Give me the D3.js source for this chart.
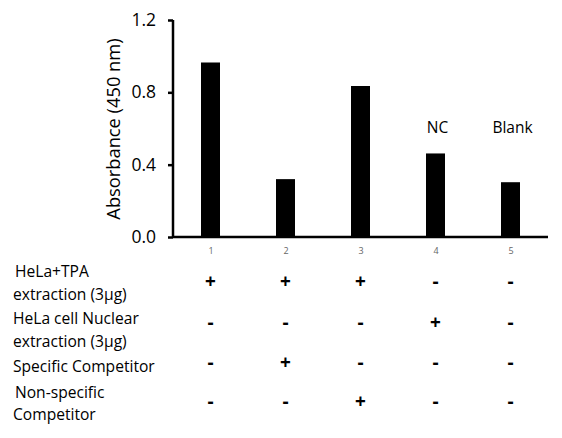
<!DOCTYPE html>
<html>
<head>
<meta charset="utf-8">
<script src="https://cdn.jsdelivr.net/npm/d3@7"></script>
<style>
  body { margin: 0; background: #fff; }
  text { font-family: "Open Sans", sans-serif; }
</style>
</head>
<body>
<div id="chart"></div>
<script>
// bar data
const lanes = ["1", "2", "3", "4", "5"];
const absorbance = [0.965, 0.32, 0.835, 0.462, 0.303];
const barNotes = ["", "", "", "NC", "Blank"];
const yTicks = [0.0, 0.4, 0.8, 1.2];

// condition table under the chart
const rowLabels = [
	["HeLa+TPA", "extraction (3μg)"],
	["HeLa cell Nuclear", "extraction (3μg)"],
	["Specific Competitor"],
	["Non-specific", "Competitor"]
];
const rowSigns = [
	["+", "+", "+", "-", "-"],
	["-", "-", "-", "+", "-"],
	["-", "+", "-", "-", "-"],
	["-", "-", "+", "-", "-"]
];

const width = 562, height = 438;
const margin = {top: 20, left: 173, right: 14, bottom: 201};

const svg = d3.select("#chart").append("svg")
	.attr("width", width)
	.attr("height", height);

const x = d3.scalePoint()
	.domain(lanes)
	.range([margin.left, width - margin.right])
	.padding(0.5);

const y = d3.scaleLinear()
	.domain([0, 1.2])
	.range([height - margin.bottom, margin.top]);

const barW = 19;

// bars
svg.selectAll("rect.bar")
	.data(lanes)
	.enter()
	.append("rect")
	.attr("class", "bar")
	.attr("x", (d, i) => x(d) - barW / 2)
	.attr("y", (d, i) => y(absorbance[i]))
	.attr("width", barW)
	.attr("height", (d, i) => y(0) - y(absorbance[i]))
	.attr("fill", "#000");

// NC / Blank notes above bars
svg.selectAll("text.note")
	.data(lanes)
	.enter()
	.append("text")
	.attr("class", "note")
	.attr("x", d => x(d) + 2)
	.attr("y", 133)
	.attr("text-anchor", "middle")
	.attr("font-size", 15.5)
	.text((d, i) => barNotes[i]);

// y axis
const yAxis = svg.append("g")
	.attr("transform", "translate(" + margin.left + ",0)")
	.call(d3.axisLeft(y).tickValues(yTicks).tickFormat(d3.format(".1f")).tickSize(5).tickPadding(12));
yAxis.select(".domain").attr("stroke-width", 2.5).attr("d", "M0," + y(1.2) + "V" + y(0));
yAxis.selectAll(".tick line").attr("stroke-width", 2.5);
yAxis.selectAll(".tick text").attr("font-size", 17.5).attr("fill", "#000");

// x baseline and lane numbers
const xAxis = svg.append("g")
	.attr("transform", "translate(0," + y(0) + ")")
	.call(d3.axisBottom(x).tickSize(0).tickPadding(11));
xAxis.select(".domain").attr("stroke-width", 2.5).attr("d", "M" + margin.left + ",0H" + (width - margin.right));
xAxis.selectAll(".tick text").attr("font-size", 9).attr("fill", "#666");

// axis title
svg.append("text")
	.attr("transform", "translate(120,129) rotate(-90)")
	.attr("text-anchor", "middle")
	.attr("font-size", 18.3)
	.text("Absorbance (450 nm)");

// table rows
const rowSignY = [282, 323, 363, 402];
const rowLabelY = [[277, 300], [324, 347], [372], [398, 420]];

rowLabels.forEach((lines, r) => {
	lines.forEach((line, k) => {
		svg.append("text")
			.attr("x", k === 0 && r !== 1 && r !== 2 ? 15 : 13)
			.attr("y", rowLabelY[r][k])
			.attr("font-size", 15.6)
			.text(line);
	});
	svg.selectAll(null)
		.data(rowSigns[r])
		.enter()
		.append("text")
		.attr("x", (d, i) => x(lanes[i]))
		.attr("y", rowSignY[r] + 6)
		.attr("text-anchor", "middle")
		.attr("font-size", 19)
		.attr("font-weight", "bold")
		.text(d => d);
});
</script>
</body>
</html>
